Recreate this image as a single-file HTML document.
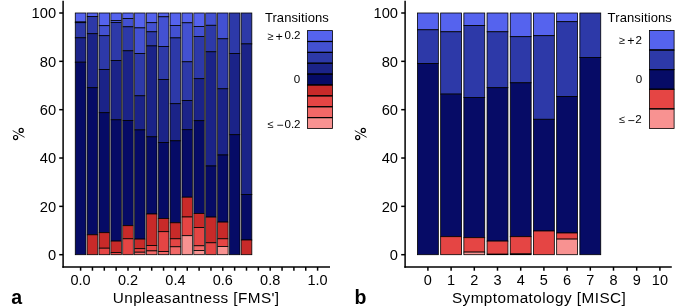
<!DOCTYPE html><html><head><meta charset="utf-8"><style>html,body{margin:0;padding:0;background:#fff;}svg{display:block;will-change:transform;}text{-webkit-font-smoothing:antialiased;font-family:"Liberation Sans",sans-serif;fill:#000;}</style></head><body>
<svg width="685" height="308" viewBox="0 0 685 308">
<rect x="0" y="0" width="685" height="308" fill="#fff"/>
<rect x="75.27" y="13.00" width="10.66" height="9.00" fill="#5563ee" stroke="#000" stroke-width="0.8"/>
<rect x="75.27" y="22.00" width="10.66" height="0.70" fill="#4351d2" stroke="#000" stroke-width="0.8"/>
<rect x="75.27" y="22.70" width="10.66" height="15.10" fill="#2d39a8" stroke="#000" stroke-width="0.8"/>
<rect x="75.27" y="37.80" width="10.66" height="24.40" fill="#1b2388" stroke="#000" stroke-width="0.8"/>
<rect x="75.27" y="62.20" width="10.66" height="192.50" fill="#060b66" stroke="#000" stroke-width="0.8"/>
<rect x="87.12" y="13.00" width="10.66" height="3.45" fill="#5563ee" stroke="#000" stroke-width="0.8"/>
<rect x="87.12" y="16.45" width="10.66" height="17.25" fill="#2d39a8" stroke="#000" stroke-width="0.8"/>
<rect x="87.12" y="33.70" width="10.66" height="54.00" fill="#1b2388" stroke="#000" stroke-width="0.8"/>
<rect x="87.12" y="87.70" width="10.66" height="147.10" fill="#060b66" stroke="#000" stroke-width="0.8"/>
<rect x="87.12" y="234.80" width="10.66" height="19.90" fill="#c82a29" stroke="#000" stroke-width="0.8"/>
<rect x="98.97" y="13.00" width="10.66" height="12.70" fill="#5563ee" stroke="#000" stroke-width="0.8"/>
<rect x="98.97" y="25.70" width="10.66" height="10.00" fill="#4351d2" stroke="#000" stroke-width="0.8"/>
<rect x="98.97" y="35.70" width="10.66" height="33.90" fill="#2d39a8" stroke="#000" stroke-width="0.8"/>
<rect x="98.97" y="69.60" width="10.66" height="43.10" fill="#1b2388" stroke="#000" stroke-width="0.8"/>
<rect x="98.97" y="112.70" width="10.66" height="120.00" fill="#060b66" stroke="#000" stroke-width="0.8"/>
<rect x="98.97" y="232.70" width="10.66" height="15.50" fill="#c82a29" stroke="#000" stroke-width="0.8"/>
<rect x="98.97" y="248.20" width="10.66" height="6.50" fill="#e54544" stroke="#000" stroke-width="0.8"/>
<rect x="110.82" y="13.00" width="10.66" height="7.40" fill="#5563ee" stroke="#000" stroke-width="0.8"/>
<rect x="110.82" y="20.40" width="10.66" height="2.05" fill="#4351d2" stroke="#000" stroke-width="0.8"/>
<rect x="110.82" y="22.45" width="10.66" height="38.05" fill="#2d39a8" stroke="#000" stroke-width="0.8"/>
<rect x="110.82" y="60.50" width="10.66" height="59.30" fill="#1b2388" stroke="#000" stroke-width="0.8"/>
<rect x="110.82" y="119.80" width="10.66" height="121.30" fill="#060b66" stroke="#000" stroke-width="0.8"/>
<rect x="110.82" y="241.10" width="10.66" height="11.30" fill="#c82a29" stroke="#000" stroke-width="0.8"/>
<rect x="110.82" y="252.40" width="10.66" height="2.30" fill="#e54544" stroke="#000" stroke-width="0.8"/>
<rect x="122.67" y="13.00" width="10.66" height="5.50" fill="#5563ee" stroke="#000" stroke-width="0.8"/>
<rect x="122.67" y="18.50" width="10.66" height="8.30" fill="#4351d2" stroke="#000" stroke-width="0.8"/>
<rect x="122.67" y="26.80" width="10.66" height="24.00" fill="#2d39a8" stroke="#000" stroke-width="0.8"/>
<rect x="122.67" y="50.80" width="10.66" height="69.70" fill="#1b2388" stroke="#000" stroke-width="0.8"/>
<rect x="122.67" y="120.50" width="10.66" height="105.20" fill="#060b66" stroke="#000" stroke-width="0.8"/>
<rect x="122.67" y="225.70" width="10.66" height="13.10" fill="#c82a29" stroke="#000" stroke-width="0.8"/>
<rect x="122.67" y="238.80" width="10.66" height="15.90" fill="#e54544" stroke="#000" stroke-width="0.8"/>
<rect x="134.52" y="13.00" width="10.66" height="14.90" fill="#5563ee" stroke="#000" stroke-width="0.8"/>
<rect x="134.52" y="27.90" width="10.66" height="25.70" fill="#4351d2" stroke="#000" stroke-width="0.8"/>
<rect x="134.52" y="53.60" width="10.66" height="42.20" fill="#2d39a8" stroke="#000" stroke-width="0.8"/>
<rect x="134.52" y="95.80" width="10.66" height="34.10" fill="#1b2388" stroke="#000" stroke-width="0.8"/>
<rect x="134.52" y="129.90" width="10.66" height="109.20" fill="#060b66" stroke="#000" stroke-width="0.8"/>
<rect x="134.52" y="239.10" width="10.66" height="9.60" fill="#c82a29" stroke="#000" stroke-width="0.8"/>
<rect x="134.52" y="248.70" width="10.66" height="3.50" fill="#e54544" stroke="#000" stroke-width="0.8"/>
<rect x="134.52" y="252.20" width="10.66" height="2.50" fill="#f26867" stroke="#000" stroke-width="0.8"/>
<rect x="146.37" y="13.00" width="10.66" height="9.70" fill="#5563ee" stroke="#000" stroke-width="0.8"/>
<rect x="146.37" y="22.70" width="10.66" height="9.10" fill="#4351d2" stroke="#000" stroke-width="0.8"/>
<rect x="146.37" y="31.80" width="10.66" height="14.10" fill="#2d39a8" stroke="#000" stroke-width="0.8"/>
<rect x="146.37" y="45.90" width="10.66" height="90.90" fill="#1b2388" stroke="#000" stroke-width="0.8"/>
<rect x="146.37" y="136.80" width="10.66" height="77.20" fill="#060b66" stroke="#000" stroke-width="0.8"/>
<rect x="146.37" y="214.00" width="10.66" height="31.60" fill="#c82a29" stroke="#000" stroke-width="0.8"/>
<rect x="146.37" y="245.60" width="10.66" height="5.30" fill="#e54544" stroke="#000" stroke-width="0.8"/>
<rect x="146.37" y="250.90" width="10.66" height="3.80" fill="#f26867" stroke="#000" stroke-width="0.8"/>
<rect x="158.22" y="13.00" width="10.66" height="3.80" fill="#5563ee" stroke="#000" stroke-width="0.8"/>
<rect x="158.22" y="16.80" width="10.66" height="29.80" fill="#4351d2" stroke="#000" stroke-width="0.8"/>
<rect x="158.22" y="46.60" width="10.66" height="33.00" fill="#2d39a8" stroke="#000" stroke-width="0.8"/>
<rect x="158.22" y="79.60" width="10.66" height="62.90" fill="#1b2388" stroke="#000" stroke-width="0.8"/>
<rect x="158.22" y="142.50" width="10.66" height="76.00" fill="#060b66" stroke="#000" stroke-width="0.8"/>
<rect x="158.22" y="218.50" width="10.66" height="13.20" fill="#c82a29" stroke="#000" stroke-width="0.8"/>
<rect x="158.22" y="231.70" width="10.66" height="19.90" fill="#e54544" stroke="#000" stroke-width="0.8"/>
<rect x="158.22" y="251.60" width="10.66" height="3.10" fill="#f26867" stroke="#000" stroke-width="0.8"/>
<rect x="170.07" y="13.00" width="10.66" height="12.40" fill="#5563ee" stroke="#000" stroke-width="0.8"/>
<rect x="170.07" y="25.40" width="10.66" height="12.50" fill="#4351d2" stroke="#000" stroke-width="0.8"/>
<rect x="170.07" y="37.90" width="10.66" height="65.80" fill="#2d39a8" stroke="#000" stroke-width="0.8"/>
<rect x="170.07" y="103.70" width="10.66" height="37.10" fill="#1b2388" stroke="#000" stroke-width="0.8"/>
<rect x="170.07" y="140.80" width="10.66" height="82.00" fill="#060b66" stroke="#000" stroke-width="0.8"/>
<rect x="170.07" y="222.80" width="10.66" height="16.00" fill="#c82a29" stroke="#000" stroke-width="0.8"/>
<rect x="170.07" y="238.80" width="10.66" height="8.00" fill="#e54544" stroke="#000" stroke-width="0.8"/>
<rect x="170.07" y="246.80" width="10.66" height="7.90" fill="#f26867" stroke="#000" stroke-width="0.8"/>
<rect x="181.92" y="13.00" width="10.66" height="9.80" fill="#5563ee" stroke="#000" stroke-width="0.8"/>
<rect x="181.92" y="22.80" width="10.66" height="39.00" fill="#4351d2" stroke="#000" stroke-width="0.8"/>
<rect x="181.92" y="61.80" width="10.66" height="38.80" fill="#2d39a8" stroke="#000" stroke-width="0.8"/>
<rect x="181.92" y="100.60" width="10.66" height="29.10" fill="#1b2388" stroke="#000" stroke-width="0.8"/>
<rect x="181.92" y="129.70" width="10.66" height="67.50" fill="#060b66" stroke="#000" stroke-width="0.8"/>
<rect x="181.92" y="197.20" width="10.66" height="19.80" fill="#c82a29" stroke="#000" stroke-width="0.8"/>
<rect x="181.92" y="217.00" width="10.66" height="18.70" fill="#e54544" stroke="#000" stroke-width="0.8"/>
<rect x="181.92" y="235.70" width="10.66" height="19.00" fill="#f89291" stroke="#000" stroke-width="0.8"/>
<rect x="193.77" y="13.00" width="10.66" height="13.40" fill="#5563ee" stroke="#000" stroke-width="0.8"/>
<rect x="193.77" y="26.40" width="10.66" height="10.00" fill="#4351d2" stroke="#000" stroke-width="0.8"/>
<rect x="193.77" y="36.40" width="10.66" height="42.30" fill="#2d39a8" stroke="#000" stroke-width="0.8"/>
<rect x="193.77" y="78.70" width="10.66" height="42.00" fill="#1b2388" stroke="#000" stroke-width="0.8"/>
<rect x="193.77" y="120.70" width="10.66" height="92.70" fill="#060b66" stroke="#000" stroke-width="0.8"/>
<rect x="193.77" y="213.40" width="10.66" height="14.20" fill="#c82a29" stroke="#000" stroke-width="0.8"/>
<rect x="193.77" y="227.60" width="10.66" height="18.20" fill="#e54544" stroke="#000" stroke-width="0.8"/>
<rect x="193.77" y="245.80" width="10.66" height="4.70" fill="#f26867" stroke="#000" stroke-width="0.8"/>
<rect x="193.77" y="250.50" width="10.66" height="4.20" fill="#f89291" stroke="#000" stroke-width="0.8"/>
<rect x="205.62" y="13.00" width="10.66" height="12.30" fill="#4351d2" stroke="#000" stroke-width="0.8"/>
<rect x="205.62" y="25.30" width="10.66" height="26.50" fill="#2d39a8" stroke="#000" stroke-width="0.8"/>
<rect x="205.62" y="51.80" width="10.66" height="114.20" fill="#1b2388" stroke="#000" stroke-width="0.8"/>
<rect x="205.62" y="166.00" width="10.66" height="51.10" fill="#060b66" stroke="#000" stroke-width="0.8"/>
<rect x="205.62" y="217.10" width="10.66" height="25.70" fill="#c82a29" stroke="#000" stroke-width="0.8"/>
<rect x="205.62" y="242.80" width="10.66" height="11.90" fill="#e54544" stroke="#000" stroke-width="0.8"/>
<rect x="217.47" y="13.00" width="10.66" height="25.80" fill="#4351d2" stroke="#000" stroke-width="0.8"/>
<rect x="217.47" y="38.80" width="10.66" height="50.00" fill="#2d39a8" stroke="#000" stroke-width="0.8"/>
<rect x="217.47" y="88.80" width="10.66" height="66.20" fill="#1b2388" stroke="#000" stroke-width="0.8"/>
<rect x="217.47" y="155.00" width="10.66" height="67.10" fill="#060b66" stroke="#000" stroke-width="0.8"/>
<rect x="217.47" y="222.10" width="10.66" height="16.70" fill="#c82a29" stroke="#000" stroke-width="0.8"/>
<rect x="217.47" y="238.80" width="10.66" height="7.80" fill="#e54544" stroke="#000" stroke-width="0.8"/>
<rect x="217.47" y="246.60" width="10.66" height="8.10" fill="#f89291" stroke="#000" stroke-width="0.8"/>
<rect x="229.32" y="13.00" width="10.66" height="40.60" fill="#2d39a8" stroke="#000" stroke-width="0.8"/>
<rect x="229.32" y="53.60" width="10.66" height="81.10" fill="#1b2388" stroke="#000" stroke-width="0.8"/>
<rect x="229.32" y="134.70" width="10.66" height="120.00" fill="#060b66" stroke="#000" stroke-width="0.8"/>
<rect x="241.17" y="13.00" width="10.66" height="30.90" fill="#2d39a8" stroke="#000" stroke-width="0.8"/>
<rect x="241.17" y="43.90" width="10.66" height="150.70" fill="#1b2388" stroke="#000" stroke-width="0.8"/>
<rect x="241.17" y="194.60" width="10.66" height="45.40" fill="#060b66" stroke="#000" stroke-width="0.8"/>
<rect x="241.17" y="240.00" width="10.66" height="14.70" fill="#c82a29" stroke="#000" stroke-width="0.8"/>
<line x1="86.52" y1="13.00" x2="86.52" y2="254.70" stroke="#9a9a9a" stroke-width="0.5"/>
<line x1="98.38" y1="13.00" x2="98.38" y2="254.70" stroke="#9a9a9a" stroke-width="0.5"/>
<line x1="110.22" y1="13.00" x2="110.22" y2="254.70" stroke="#9a9a9a" stroke-width="0.5"/>
<line x1="122.07" y1="13.00" x2="122.07" y2="254.70" stroke="#9a9a9a" stroke-width="0.5"/>
<line x1="133.92" y1="13.00" x2="133.92" y2="254.70" stroke="#9a9a9a" stroke-width="0.5"/>
<line x1="145.77" y1="13.00" x2="145.77" y2="254.70" stroke="#9a9a9a" stroke-width="0.5"/>
<line x1="157.62" y1="13.00" x2="157.62" y2="254.70" stroke="#9a9a9a" stroke-width="0.5"/>
<line x1="169.47" y1="13.00" x2="169.47" y2="254.70" stroke="#9a9a9a" stroke-width="0.5"/>
<line x1="181.32" y1="13.00" x2="181.32" y2="254.70" stroke="#9a9a9a" stroke-width="0.5"/>
<line x1="193.18" y1="13.00" x2="193.18" y2="254.70" stroke="#9a9a9a" stroke-width="0.5"/>
<line x1="205.02" y1="13.00" x2="205.02" y2="254.70" stroke="#9a9a9a" stroke-width="0.5"/>
<line x1="216.88" y1="13.00" x2="216.88" y2="254.70" stroke="#9a9a9a" stroke-width="0.5"/>
<line x1="228.72" y1="13.00" x2="228.72" y2="254.70" stroke="#9a9a9a" stroke-width="0.5"/>
<line x1="240.57" y1="13.00" x2="240.57" y2="254.70" stroke="#9a9a9a" stroke-width="0.5"/>
<rect x="417.46" y="13.00" width="20.88" height="16.80" fill="#5563ee" stroke="#000" stroke-width="0.8"/>
<rect x="417.46" y="29.80" width="20.88" height="33.80" fill="#2d39a8" stroke="#000" stroke-width="0.8"/>
<rect x="417.46" y="63.60" width="20.88" height="191.10" fill="#060b66" stroke="#000" stroke-width="0.8"/>
<rect x="440.66" y="13.00" width="20.88" height="18.80" fill="#5563ee" stroke="#000" stroke-width="0.8"/>
<rect x="440.66" y="31.80" width="20.88" height="62.30" fill="#2d39a8" stroke="#000" stroke-width="0.8"/>
<rect x="440.66" y="94.10" width="20.88" height="142.60" fill="#060b66" stroke="#000" stroke-width="0.8"/>
<rect x="440.66" y="236.70" width="20.88" height="18.00" fill="#e54544" stroke="#000" stroke-width="0.8"/>
<rect x="463.86" y="13.00" width="20.88" height="12.60" fill="#5563ee" stroke="#000" stroke-width="0.8"/>
<rect x="463.86" y="25.60" width="20.88" height="71.80" fill="#2d39a8" stroke="#000" stroke-width="0.8"/>
<rect x="463.86" y="97.40" width="20.88" height="140.30" fill="#060b66" stroke="#000" stroke-width="0.8"/>
<rect x="463.86" y="237.70" width="20.88" height="14.40" fill="#e54544" stroke="#000" stroke-width="0.8"/>
<rect x="463.86" y="252.10" width="20.88" height="2.60" fill="#f89291" stroke="#000" stroke-width="0.8"/>
<rect x="487.06" y="13.00" width="20.88" height="18.80" fill="#5563ee" stroke="#000" stroke-width="0.8"/>
<rect x="487.06" y="31.80" width="20.88" height="55.90" fill="#2d39a8" stroke="#000" stroke-width="0.8"/>
<rect x="487.06" y="87.70" width="20.88" height="153.40" fill="#060b66" stroke="#000" stroke-width="0.8"/>
<rect x="487.06" y="241.10" width="20.88" height="13.10" fill="#e54544" stroke="#000" stroke-width="0.8"/>
<rect x="487.06" y="254.20" width="20.88" height="0.50" fill="#f89291" stroke="#000" stroke-width="0.8"/>
<rect x="510.26" y="13.00" width="20.88" height="23.70" fill="#5563ee" stroke="#000" stroke-width="0.8"/>
<rect x="510.26" y="36.70" width="20.88" height="46.10" fill="#2d39a8" stroke="#000" stroke-width="0.8"/>
<rect x="510.26" y="82.80" width="20.88" height="153.90" fill="#060b66" stroke="#000" stroke-width="0.8"/>
<rect x="510.26" y="236.70" width="20.88" height="17.20" fill="#e54544" stroke="#000" stroke-width="0.8"/>
<rect x="510.26" y="253.90" width="20.88" height="0.80" fill="#f89291" stroke="#000" stroke-width="0.8"/>
<rect x="533.46" y="13.00" width="20.88" height="22.70" fill="#5563ee" stroke="#000" stroke-width="0.8"/>
<rect x="533.46" y="35.70" width="20.88" height="83.60" fill="#2d39a8" stroke="#000" stroke-width="0.8"/>
<rect x="533.46" y="119.30" width="20.88" height="111.70" fill="#060b66" stroke="#000" stroke-width="0.8"/>
<rect x="533.46" y="231.00" width="20.88" height="23.70" fill="#e54544" stroke="#000" stroke-width="0.8"/>
<rect x="556.66" y="13.00" width="20.88" height="8.70" fill="#5563ee" stroke="#000" stroke-width="0.8"/>
<rect x="556.66" y="21.70" width="20.88" height="74.80" fill="#2d39a8" stroke="#000" stroke-width="0.8"/>
<rect x="556.66" y="96.50" width="20.88" height="136.50" fill="#060b66" stroke="#000" stroke-width="0.8"/>
<rect x="556.66" y="233.00" width="20.88" height="6.10" fill="#e54544" stroke="#000" stroke-width="0.8"/>
<rect x="556.66" y="239.10" width="20.88" height="15.60" fill="#f89291" stroke="#000" stroke-width="0.8"/>
<rect x="579.86" y="13.00" width="20.88" height="44.50" fill="#2d39a8" stroke="#000" stroke-width="0.8"/>
<rect x="579.86" y="57.50" width="20.88" height="197.20" fill="#060b66" stroke="#000" stroke-width="0.8"/>
<line x1="63.10" y1="0.8" x2="63.10" y2="267.75" stroke="#000" stroke-width="1.5"/>
<line x1="62.35" y1="267.0" x2="330.00" y2="267.0" stroke="#000" stroke-width="1.5"/>
<line x1="59.20" y1="254.70" x2="63.10" y2="254.70" stroke="#000" stroke-width="1.5"/>
<text x="56.07" y="260.10" font-size="14.7" text-anchor="end">0</text>
<line x1="59.20" y1="206.36" x2="63.10" y2="206.36" stroke="#000" stroke-width="1.5"/>
<text x="56.07" y="211.76" font-size="14.7" text-anchor="end">20</text>
<line x1="59.20" y1="158.02" x2="63.10" y2="158.02" stroke="#000" stroke-width="1.5"/>
<text x="56.07" y="163.42" font-size="14.7" text-anchor="end">40</text>
<line x1="59.20" y1="109.68" x2="63.10" y2="109.68" stroke="#000" stroke-width="1.5"/>
<text x="56.07" y="115.08" font-size="14.7" text-anchor="end">60</text>
<line x1="59.20" y1="61.34" x2="63.10" y2="61.34" stroke="#000" stroke-width="1.5"/>
<text x="56.07" y="66.74" font-size="14.7" text-anchor="end">80</text>
<line x1="59.20" y1="13.00" x2="63.10" y2="13.00" stroke="#000" stroke-width="1.5"/>
<text x="56.07" y="18.40" font-size="14.7" text-anchor="end">100</text>
<line x1="80.60" y1="267.0" x2="80.60" y2="270.7" stroke="#000" stroke-width="1.5"/>
<line x1="92.45" y1="267.0" x2="92.45" y2="270.7" stroke="#000" stroke-width="1.5"/>
<line x1="104.30" y1="267.0" x2="104.30" y2="270.7" stroke="#000" stroke-width="1.5"/>
<line x1="116.15" y1="267.0" x2="116.15" y2="270.7" stroke="#000" stroke-width="1.5"/>
<line x1="128.00" y1="267.0" x2="128.00" y2="270.7" stroke="#000" stroke-width="1.5"/>
<line x1="139.85" y1="267.0" x2="139.85" y2="270.7" stroke="#000" stroke-width="1.5"/>
<line x1="151.70" y1="267.0" x2="151.70" y2="270.7" stroke="#000" stroke-width="1.5"/>
<line x1="163.55" y1="267.0" x2="163.55" y2="270.7" stroke="#000" stroke-width="1.5"/>
<line x1="175.40" y1="267.0" x2="175.40" y2="270.7" stroke="#000" stroke-width="1.5"/>
<line x1="187.25" y1="267.0" x2="187.25" y2="270.7" stroke="#000" stroke-width="1.5"/>
<line x1="199.10" y1="267.0" x2="199.10" y2="270.7" stroke="#000" stroke-width="1.5"/>
<line x1="210.95" y1="267.0" x2="210.95" y2="270.7" stroke="#000" stroke-width="1.5"/>
<line x1="222.80" y1="267.0" x2="222.80" y2="270.7" stroke="#000" stroke-width="1.5"/>
<line x1="234.65" y1="267.0" x2="234.65" y2="270.7" stroke="#000" stroke-width="1.5"/>
<line x1="246.50" y1="267.0" x2="246.50" y2="270.7" stroke="#000" stroke-width="1.5"/>
<line x1="258.35" y1="267.0" x2="258.35" y2="270.7" stroke="#000" stroke-width="1.5"/>
<line x1="270.20" y1="267.0" x2="270.20" y2="270.7" stroke="#000" stroke-width="1.5"/>
<line x1="282.05" y1="267.0" x2="282.05" y2="270.7" stroke="#000" stroke-width="1.5"/>
<line x1="293.90" y1="267.0" x2="293.90" y2="270.7" stroke="#000" stroke-width="1.5"/>
<line x1="305.75" y1="267.0" x2="305.75" y2="270.7" stroke="#000" stroke-width="1.5"/>
<line x1="317.60" y1="267.0" x2="317.60" y2="270.7" stroke="#000" stroke-width="1.5"/>
<text x="80.60" y="284.9" font-size="14.5" text-anchor="middle">0.0</text>
<text x="128.00" y="284.9" font-size="14.5" text-anchor="middle">0.2</text>
<text x="175.40" y="284.9" font-size="14.5" text-anchor="middle">0.4</text>
<text x="222.80" y="284.9" font-size="14.5" text-anchor="middle">0.6</text>
<text x="270.20" y="284.9" font-size="14.5" text-anchor="middle">0.8</text>
<text x="317.60" y="284.9" font-size="14.5" text-anchor="middle">1.0</text>
<text x="112.72" y="302.7" font-size="15.3" textLength="166.40" lengthAdjust="spacing">Unpleasantness [FMS']</text>
<line x1="405.10" y1="0.8" x2="405.10" y2="267.75" stroke="#000" stroke-width="1.5"/>
<line x1="404.35" y1="267.0" x2="671.80" y2="267.0" stroke="#000" stroke-width="1.5"/>
<line x1="401.20" y1="254.70" x2="405.10" y2="254.70" stroke="#000" stroke-width="1.5"/>
<text x="398.00" y="260.10" font-size="14.7" text-anchor="end">0</text>
<line x1="401.20" y1="206.36" x2="405.10" y2="206.36" stroke="#000" stroke-width="1.5"/>
<text x="398.00" y="211.76" font-size="14.7" text-anchor="end">20</text>
<line x1="401.20" y1="158.02" x2="405.10" y2="158.02" stroke="#000" stroke-width="1.5"/>
<text x="398.00" y="163.42" font-size="14.7" text-anchor="end">40</text>
<line x1="401.20" y1="109.68" x2="405.10" y2="109.68" stroke="#000" stroke-width="1.5"/>
<text x="398.00" y="115.08" font-size="14.7" text-anchor="end">60</text>
<line x1="401.20" y1="61.34" x2="405.10" y2="61.34" stroke="#000" stroke-width="1.5"/>
<text x="398.00" y="66.74" font-size="14.7" text-anchor="end">80</text>
<line x1="401.20" y1="13.00" x2="405.10" y2="13.00" stroke="#000" stroke-width="1.5"/>
<text x="398.00" y="18.40" font-size="14.7" text-anchor="end">100</text>
<line x1="427.90" y1="267.0" x2="427.90" y2="270.7" stroke="#000" stroke-width="1.5"/>
<line x1="451.10" y1="267.0" x2="451.10" y2="270.7" stroke="#000" stroke-width="1.5"/>
<line x1="474.30" y1="267.0" x2="474.30" y2="270.7" stroke="#000" stroke-width="1.5"/>
<line x1="497.50" y1="267.0" x2="497.50" y2="270.7" stroke="#000" stroke-width="1.5"/>
<line x1="520.70" y1="267.0" x2="520.70" y2="270.7" stroke="#000" stroke-width="1.5"/>
<line x1="543.90" y1="267.0" x2="543.90" y2="270.7" stroke="#000" stroke-width="1.5"/>
<line x1="567.10" y1="267.0" x2="567.10" y2="270.7" stroke="#000" stroke-width="1.5"/>
<line x1="590.30" y1="267.0" x2="590.30" y2="270.7" stroke="#000" stroke-width="1.5"/>
<line x1="613.50" y1="267.0" x2="613.50" y2="270.7" stroke="#000" stroke-width="1.5"/>
<line x1="636.70" y1="267.0" x2="636.70" y2="270.7" stroke="#000" stroke-width="1.5"/>
<line x1="659.90" y1="267.0" x2="659.90" y2="270.7" stroke="#000" stroke-width="1.5"/>
<text x="427.90" y="284.9" font-size="14.5" text-anchor="middle">0</text>
<text x="451.10" y="284.9" font-size="14.5" text-anchor="middle">1</text>
<text x="474.30" y="284.9" font-size="14.5" text-anchor="middle">2</text>
<text x="497.50" y="284.9" font-size="14.5" text-anchor="middle">3</text>
<text x="520.70" y="284.9" font-size="14.5" text-anchor="middle">4</text>
<text x="543.90" y="284.9" font-size="14.5" text-anchor="middle">5</text>
<text x="567.10" y="284.9" font-size="14.5" text-anchor="middle">6</text>
<text x="590.30" y="284.9" font-size="14.5" text-anchor="middle">7</text>
<text x="613.50" y="284.9" font-size="14.5" text-anchor="middle">8</text>
<text x="636.70" y="284.9" font-size="14.5" text-anchor="middle">9</text>
<text x="659.90" y="284.9" font-size="14.5" text-anchor="middle">10</text>
<text x="451.90" y="302.7" font-size="15.3" textLength="173.90" lengthAdjust="spacing">Symptomatology [MISC]</text>
<g fill="none" stroke="#000"><circle cx="21.20" cy="130.4" r="2.05" stroke-width="1.2"/><circle cx="15.60" cy="137.55" r="2.05" stroke-width="1.2"/><line x1="12.70" y1="130.6" x2="24.60" y2="137.3" stroke-width="0.85"/></g>
<g fill="none" stroke="#000"><circle cx="363.30" cy="130.4" r="2.05" stroke-width="1.2"/><circle cx="357.70" cy="137.55" r="2.05" stroke-width="1.2"/><line x1="354.80" y1="130.6" x2="366.70" y2="137.3" stroke-width="0.85"/></g>
<text x="11.23" y="303.7" font-size="19.5" font-weight="bold">a</text>
<text x="354.6" y="303.6" font-size="19.5" font-weight="bold">b</text>
<text x="264.9" y="22.2" font-size="13" textLength="63.96" lengthAdjust="spacing">Transitions</text>
<rect x="307.5" y="30.60" width="25" height="10.88" fill="#5563ee" stroke="#000" stroke-width="0.8"/>
<rect x="307.5" y="41.48" width="25" height="10.88" fill="#4351d2" stroke="#000" stroke-width="0.8"/>
<rect x="307.5" y="52.36" width="25" height="10.88" fill="#2d39a8" stroke="#000" stroke-width="0.8"/>
<rect x="307.5" y="63.23" width="25" height="10.88" fill="#1b2388" stroke="#000" stroke-width="0.8"/>
<rect x="307.5" y="74.11" width="25" height="10.88" fill="#060b66" stroke="#000" stroke-width="0.8"/>
<rect x="307.5" y="84.99" width="25" height="10.88" fill="#c82a29" stroke="#000" stroke-width="0.8"/>
<rect x="307.5" y="95.87" width="25" height="10.88" fill="#e54544" stroke="#000" stroke-width="0.8"/>
<rect x="307.5" y="106.74" width="25" height="10.88" fill="#f26867" stroke="#000" stroke-width="0.8"/>
<rect x="307.5" y="117.62" width="25" height="10.88" fill="#f89291" stroke="#000" stroke-width="0.8"/>
<line x1="307.5" y1="41.48" x2="332.5" y2="41.48" stroke="#000" stroke-width="1.3" stroke-opacity="0.85"/>
<line x1="307.5" y1="52.36" x2="332.5" y2="52.36" stroke="#000" stroke-width="1.3" stroke-opacity="0.85"/>
<line x1="307.5" y1="63.23" x2="332.5" y2="63.23" stroke="#000" stroke-width="1.3" stroke-opacity="0.85"/>
<line x1="307.5" y1="74.11" x2="332.5" y2="74.11" stroke="#000" stroke-width="1.3" stroke-opacity="0.85"/>
<line x1="307.5" y1="84.99" x2="332.5" y2="84.99" stroke="#000" stroke-width="1.3" stroke-opacity="0.85"/>
<line x1="307.5" y1="95.87" x2="332.5" y2="95.87" stroke="#000" stroke-width="1.3" stroke-opacity="0.85"/>
<line x1="307.5" y1="106.74" x2="332.5" y2="106.74" stroke="#000" stroke-width="1.3" stroke-opacity="0.85"/>
<line x1="307.5" y1="117.62" x2="332.5" y2="117.62" stroke="#000" stroke-width="1.3" stroke-opacity="0.85"/>
<text x="607.6" y="22.2" font-size="13" textLength="64.26" lengthAdjust="spacing">Transitions</text>
<rect x="649.4" y="30.40" width="24.7" height="19.62" fill="#5563ee" stroke="#000" stroke-width="0.8"/>
<rect x="649.4" y="50.02" width="24.7" height="19.62" fill="#2d39a8" stroke="#000" stroke-width="0.8"/>
<rect x="649.4" y="69.64" width="24.7" height="19.62" fill="#060b66" stroke="#000" stroke-width="0.8"/>
<rect x="649.4" y="89.26" width="24.7" height="19.62" fill="#e54544" stroke="#000" stroke-width="0.8"/>
<rect x="649.4" y="108.88" width="24.7" height="19.62" fill="#f89291" stroke="#000" stroke-width="0.8"/>
<line x1="649.4" y1="50.02" x2="674.1" y2="50.02" stroke="#000" stroke-width="1.3" stroke-opacity="0.85"/>
<line x1="649.4" y1="69.64" x2="674.1" y2="69.64" stroke="#000" stroke-width="1.3" stroke-opacity="0.85"/>
<line x1="649.4" y1="89.26" x2="674.1" y2="89.26" stroke="#000" stroke-width="1.3" stroke-opacity="0.85"/>
<line x1="649.4" y1="108.88" x2="674.1" y2="108.88" stroke="#000" stroke-width="1.3" stroke-opacity="0.85"/>
<text x="267.25" y="40.00" font-size="11">≥</text>
<text x="275.40" y="41.06" font-size="12.5">+</text>
<text x="284.45" y="39.40" font-size="11.6">0.2</text>
<text x="293.65" y="83.30" font-size="11.6">0</text>
<text x="267.26" y="127.90" font-size="11">≤</text>
<text x="276.41" y="128.64" font-size="12">−</text>
<text x="284.45" y="127.70" font-size="11.6">0.2</text>
<text x="618.65" y="44.20" font-size="11">≥</text>
<text x="627.29" y="45.10" font-size="12.5">+</text>
<text x="635.52" y="43.70" font-size="11.6">2</text>
<text x="635.65" y="83.30" font-size="11.6">0</text>
<text x="618.66" y="123.45" font-size="11">≤</text>
<text x="627.38" y="124.65" font-size="12.5">−</text>
<text x="635.32" y="123.35" font-size="11.6">2</text>
</svg></body></html>
